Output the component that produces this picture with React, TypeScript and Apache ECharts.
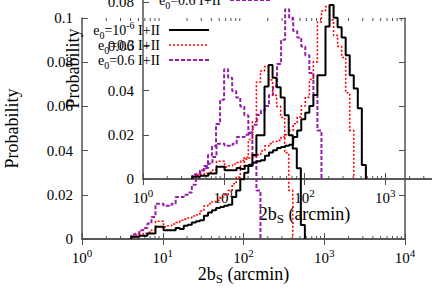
import { useEffect, useRef } from "react";
import * as echarts from "echarts";

// log-spaced histogram bin edges (arcmin)
const binEdges = [
  4.074, 4.571, 5.129, 5.754, 6.457, 7.244, 8.128, 9.12, 10.23, 11.48,
  12.88, 14.45, 16.22, 18.2, 20.42, 22.91, 25.7, 28.84, 32.36, 36.31,
  40.74, 45.71, 51.29, 57.54, 64.57, 72.44, 81.28, 91.2, 102.3, 114.8,
  128.8, 144.5, 162.2, 182.0, 204.2, 229.1, 257.0, 288.4, 323.6, 363.1,
  407.4, 457.1, 512.9, 575.4, 645.7,
];

const blackValues = [
  0.001, 0.001, 0.0015, 0.0015, 0.0025, 0.0025, 0.0055, 0.0055, 0.004, 0.004,
  0.004, 0.005, 0.0045, 0.006, 0.0065, 0.0075, 0.008, 0.0085, 0.0105, 0.012,
  0.013, 0.014, 0.0145, 0.015, 0.0155, 0.019, 0.022, 0.027, 0.03, 0.033,
  0.038, 0.047, 0.047, 0.069, 0.0787, 0.073, 0.0687, 0.064, 0.056, 0.047,
  0.041, 0.032, 0.0063,
];

const redValues = [
  0.001, 0.0018, 0.0022, 0.0026, 0.003, 0.004, 0.008, 0.008, 0.0055, 0.006,
  0.0068, 0.0075, 0.0085, 0.009, 0.0095, 0.0104, 0.011, 0.0127, 0.015, 0.016,
  0.017, 0.0175, 0.019, 0.02, 0.022, 0.025, 0.028, 0.033, 0.037, 0.045,
  0.053, 0.071, 0.076, 0.078, 0.072, 0.065, 0.06, 0.055, 0.039, 0.022,
];

const purpleValues = [
  0.002, 0.0025, 0.004, 0.005, 0.007, 0.01, 0.016, 0.016, 0.015, 0.015,
  0.016, 0.019, 0.019, 0.02, 0.021, 0.0245, 0.029, 0.031, 0.033, 0.038,
  0.042, 0.052, 0.063, 0.0768, 0.073, 0.067, 0.064, 0.06, 0.056, 0.048,
  0.038, 0.022,
];

const seriesNames = ["e0=10^-6 I+II", "e0=0.3 I+II", "e0=0.6 I+II"];
const legendTexts = [
  "{n|e}{s|0}{n|=10}{p|-6}{n| I+II}",
  "{n|e}{s|0}{n|=0.3 I+II}",
  "{n|e}{s|0}{n|=0.6 I+II}",
];
const minorTickValues = [
  2, 3, 4, 5, 6, 7, 8, 9,
  20, 30, 40, 50, 60, 70, 80, 90,
  200, 300, 400, 500, 600, 700, 800, 900,
  2000, 3000, 4000, 5000, 6000, 7000, 8000, 9000,
];

const FONT = '"Liberation Serif", "Times New Roman", serif';
const AXIS_COLOR = "#505050";
const colors = ["#000000", "#ff0000", "#9420a8"];
const lineTypes: any[] = ["solid", [2, 2], [4, 2]];
const lineWidths = [2, 1.6, 2];
const valueSets = [blackValues, redValues, purpleValues];

// two overlapping copies of the same panel
const copies = [
  { left: 82, top: 18 },
  { left: 143, top: -42 },
];
const GW = 323;
const GH = 221;

function histPoints(values: number[]) {
  const pts: number[][] = [[binEdges[0], 0]];
  values.forEach((v, i) => pts.push([binEdges[i], v]));
  pts.push([binEdges[values.length], 0]);
  return pts;
}

function buildOption() {
  const grid = copies.map((c) => ({
    left: c.left,
    top: c.top,
    width: GW,
    height: GH,
    containLabel: false,
    outerBoundsMode: "none",
  }));
  const xAxis: any[] = [];
  const yAxis: any[] = [];
  const series: any[] = [];
  const graphic: any[] = [];

  copies.forEach((c, gi) => {
    const baseX = {
      type: "log",
      logBase: 10,
      min: 1,
      max: 10000,
      gridIndex: gi,
      splitLine: { show: false },
      axisLine: { show: true, lineStyle: { color: AXIS_COLOR, width: 1.5 } },
      axisTick: { show: true, inside: true, length: 6, lineStyle: { color: AXIS_COLOR, width: 1 } },
    };
    xAxis.push({
      ...baseX,
      position: "bottom",
      name: "2b{s|S} (arcmin)",
      nameLocation: "middle",
      nameGap: 24,
      nameMoveOverlap: false,
      nameTextStyle: {
        fontFamily: FONT,
        fontSize: 18,
        color: "#000",
        lineHeight: 22,
        rich: { s: { fontFamily: FONT, fontSize: 13, verticalAlign: "bottom", color: "#000" } },
      },
      axisLabel: {
        show: true,
        margin: 8,
        fontFamily: FONT,
        fontSize: 15,
        color: "#000",
        lineHeight: 22,
        formatter: (v: number) => "10{p|" + Math.round(Math.log10(v)) + "}",
        rich: { p: { fontFamily: FONT, fontSize: 11, verticalAlign: "top", color: "#000" } },
      },
    });
    xAxis.push({ ...baseX, position: "top", axisLabel: { show: false } });

    const baseY = {
      type: "value",
      min: 0,
      max: 0.1,
      interval: 0.02,
      gridIndex: gi,
      splitLine: { show: false },
      axisLine: { show: true, lineStyle: { color: AXIS_COLOR, width: 1.5 } },
      axisTick: { show: true, inside: true, length: 6, lineStyle: { color: AXIS_COLOR, width: 1 } },
    };
    yAxis.push({
      ...baseY,
      position: "left",
      name: "Probability",
      nameLocation: "middle",
      nameRotate: 90,
      nameGap: 61,
      nameMoveOverlap: false,
      nameTextStyle: { fontFamily: FONT, fontSize: 18, color: "#000" },
      axisLabel: { show: true, margin: 9, fontFamily: FONT, fontSize: 15, color: "#000" },
    });
    yAxis.push({ ...baseY, position: "right", axisLabel: { show: false } });

    valueSets.forEach((vals, si) => {
      series.push({
        type: "line",
        name: seriesNames[si],
        xAxisIndex: gi * 2,
        yAxisIndex: gi * 2,
        step: "end",
        symbol: "none",
        clip: false,
        data: histPoints(vals),
        lineStyle: { color: colors[si], width: lineWidths[si], type: lineTypes[si], cap: "butt" },
        itemStyle: { color: colors[si] },
        z: 3 + (2 - si),
      });
    });

    series.push({
      type: "custom",
      xAxisIndex: gi * 2,
      yAxisIndex: gi * 2,
      silent: true,
      clip: false,
      data: minorTickValues.map((v) => [v, 0]),
      renderItem: (_p: any, api: any) => {
        const v = api.value(0);
        const b = api.coord([v, 0]);
        const t = api.coord([v, 0.1]);
        return {
          type: "group",
          children: [
            { type: "line", shape: { x1: b[0], y1: b[1], x2: b[0], y2: b[1] - 3 }, style: { stroke: AXIS_COLOR, lineWidth: 1 } },
            { type: "line", shape: { x1: t[0], y1: t[1], x2: t[0], y2: t[1] + 3 }, style: { stroke: AXIS_COLOR, lineWidth: 1 } },
          ],
        };
      },
      z: 2,
    });

    const dx = c.left - copies[0].left;
    const dy = c.top - copies[0].top;
    legendTexts.forEach((txt, si) => {
      const y = 30 + 15 * si + dy;
      graphic.push({
        type: "text",
        x: 160 + dx,
        y,
        style: {
          text: txt,
          fill: "#000",
          align: "right",
          verticalAlign: "middle",
          textAlign: "right",
          textVerticalAlign: "middle",
          font: '14px "Liberation Serif"',
          rich: {
            n: { fontFamily: FONT, fontSize: 14, lineHeight: 20, fill: "#000", color: "#000" },
            s: { fontFamily: FONT, fontSize: 10, verticalAlign: "bottom", fill: "#000", color: "#000" },
            p: { fontFamily: FONT, fontSize: 10, verticalAlign: "top", fill: "#000", color: "#000" },
          },
        },
        z: 10,
      });
      graphic.push({
        type: "line",
        shape: { x1: 169 + dx, y1: y, x2: 209 + dx, y2: y },
        style: {
          stroke: colors[si],
          lineWidth: lineWidths[si],
          lineDash: Array.isArray(lineTypes[si]) ? lineTypes[si] : null,
        },
        z: 10,
      });
    });
  });

  return {
    animation: false,
    backgroundColor: "#ffffff",
    grid,
    xAxis,
    yAxis,
    series,
    graphic,
  };
}

export default function App() {
  const ref = useRef<HTMLDivElement>(null);
  useEffect(() => {
    if (!ref.current) return;
    const chart = echarts.init(ref.current, undefined, { renderer: "svg" });
    chart.setOption(buildOption() as any);
    return () => chart.dispose();
  }, []);
  return (
    <div
      ref={ref}
      style={{ position: "fixed", left: 0, top: 0, width: 432, height: 302 }}
    />
  );
}
